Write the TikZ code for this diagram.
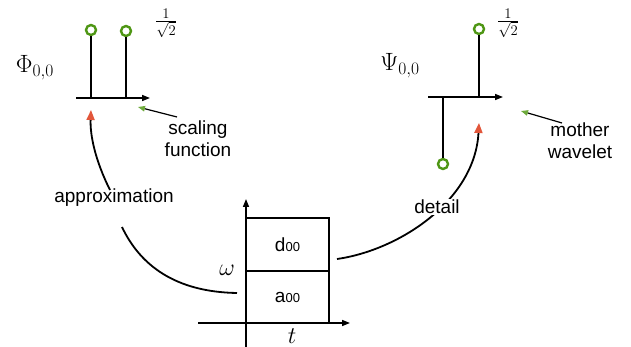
\RequirePackage{fix-cm}
\documentclass[tikz,border=0pt]{standalone}
\usepackage{fontspec}
\setmainfont{Liberation Sans}
\usetikzlibrary{arrows.meta}
\definecolor{stemgreen}{RGB}{78,150,20}
\definecolor{tipred}{RGB}{226,86,58}
\definecolor{tipgreen}{RGB}{110,170,60}
\begin{document}
\begin{tikzpicture}[x=1pt,y=-1pt,
  lbl/.style={font=\fontsize{19}{22}\selectfont, align=center, inner sep=1pt},
  mathlbl/.style={font=\fontsize{25}{28}\selectfont, inner sep=0pt},
  fraclbl/.style={font=\fontsize{21}{23}\selectfont, inner sep=0pt},
  axisline/.style={line width=1.5pt, -{Triangle[length=8pt,width=6pt]}},
  stemline/.style={line width=2.6pt},
  dot/.style={circle, draw=stemgreen, line width=2.4pt, fill=white, minimum size=10pt, inner sep=0pt},
  pointer/.style={line width=1.2pt, -{Triangle[length=7pt,width=5.5pt,color=tipgreen]}},
  curved/.style={line width=1.8pt},
  redtip/.style={-{Triangle[length=10pt,width=8pt,color=tipred]}},
  cell/.style={draw, line width=1.2pt, minimum width=83pt, inner sep=0pt, font=\fontsize{19}{22}\selectfont},
  ]
\useasboundingbox (0,0) rectangle (631,347);

% ---------- scaling function ----------
\coordinate (la0) at (76,98);
\coordinate (la1) at (150,98);
\coordinate (ls1) at (91,98);
\coordinate (ls2) at (126,98);
\draw[axisline] (la0) -- (la1);
\node[dot] (lc1) at (91,30) {};
\node[dot] (lc2) at (126,31) {};
\draw[stemline] (ls1) -- (lc1.south);
\draw[stemline] (ls2) -- (lc2.south);
\node[mathlbl] (phi) at (35,68) {$\Phi_{0,0}$};
\node[fraclbl] (lfrac) at (166,23) {$\frac{1}{\sqrt{2}}$};
\node[lbl] (scal) at (198,139) {scaling\\function};
\coordinate (scaltip) at (138,107);
\draw[pointer] (177,117) -- (scaltip);

% ---------- mother wavelet ----------
\coordinate (ra0) at (428,97);
\coordinate (ra1) at (503,97);
\coordinate (rs1) at (443,97);
\coordinate (rs2) at (479,97);
\draw[axisline] (ra0) -- (ra1);
\node[dot] (rc1) at (443,164) {};
\node[dot] (rc2) at (479,29) {};
\draw[stemline] (rs1) -- (rc1.north);
\draw[stemline] (rs2) -- (rc2.south);
\node[mathlbl] (psi) at (400,66) {$\Psi_{0,0}$};
\node[fraclbl] (rfrac) at (508,23) {$\frac{1}{\sqrt{2}}$};
\node[lbl] (moth) at (580,141) {mother\\wavelet};
\coordinate (mothtip) at (521,111);
\draw[pointer] (562,123) -- (mothtip);

% ---------- time-frequency box ----------
\node[cell, minimum height=53pt] (d) at (287.5,244.5) {d{\fontsize{13}{13}\selectfont 00}};
\node[cell, minimum height=52pt] (a) at (287.5,297) {a{\fontsize{13}{13}\selectfont 00}};
\coordinate (vx0) at (246,347);
\coordinate (vx1) at (246,199);
\coordinate (hx0) at (198,323);
\coordinate (hx1) at (350,323);
\draw[axisline] (vx0) -- (vx1);
\draw[axisline] (hx0) -- (hx1);
\node[mathlbl, font=\fontsize{24}{26}\selectfont] (om) at (227,270) {$\omega$};
\node[mathlbl, font=\fontsize{24}{26}\selectfont] (tt) at (292,336) {$t$};

% ---------- approximation curve ----------
\node[lbl] (approx) at (114,198) {approximation};
\coordinate (ap0) at (237,293);
\coordinate (ap1) at (122,227);
\coordinate (ap2) at (110,190);
\coordinate (aptip) at (91,110);
\draw[curved] (ap0) .. controls (175,292) and (140,265) .. (ap1);
\draw[curved, redtip] (ap2) .. controls (95,160) and (90,135) .. (aptip);

% ---------- detail curve ----------
\coordinate (de0) at (337,259);
\coordinate (detip) at (479,123);
\draw[curved, redtip] (de0) .. controls (400,250) and (475,200) .. (detip);
\node[lbl, fill=white] (det) at (437,207) {detail};
\end{tikzpicture}
\end{document}
